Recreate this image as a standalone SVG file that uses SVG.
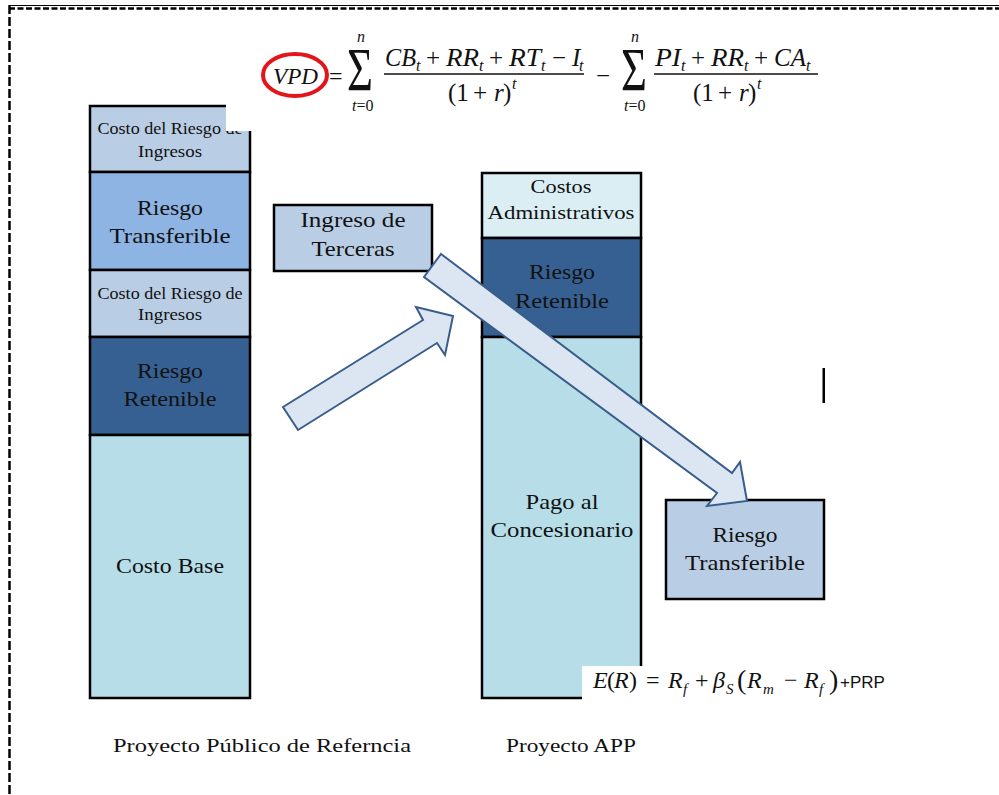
<svg xmlns="http://www.w3.org/2000/svg" width="999" height="795" viewBox="0 0 999 795">
<style>
  .lbl{font-family:"Liberation Serif","DejaVu Serif",serif;fill:#111;text-anchor:middle}
  .m{font-family:"Liberation Serif","DejaVu Serif",serif;fill:#111}
  .it{font-style:italic}
  .box{stroke:#000;stroke-width:2.5}
  .c1{fill:#b9cde5}
  .c2{fill:#8eb4e3}
  .c3{fill:#376092}
  .c4{fill:#b7dee8}
  .c5{fill:#dbeef4}
  .arrow{fill:#dce6f2;stroke:#385d8a;stroke-width:2}
</style>
<rect width="999" height="795" fill="#fff"/>

<!-- page frame -->
<g id="frame" fill="none" stroke="#000">
  <line x1="9" y1="5.5" x2="999" y2="5.5" stroke-width="1"/>
  <line x1="9" y1="8.5" x2="999" y2="8.5" stroke-width="2.5" stroke-dasharray="6 2.5"/>
  <line x1="9.5" y1="5" x2="9.5" y2="795" stroke-width="2.5" stroke-dasharray="9 3"/>
</g>

<!-- left stack: public reference project -->
<g id="ref-costo-riesgo-ingresos-1">
  <rect class="box c1" x="90" y="106" width="160" height="66"/>
  <text class="lbl" x="170" y="134" font-size="16" textLength="145" lengthAdjust="spacingAndGlyphs">Costo del Riesgo de</text>
  <text class="lbl" x="170" y="157" font-size="16" textLength="64" lengthAdjust="spacingAndGlyphs">Ingresos</text>
</g>
<g id="ref-riesgo-transferible">
  <rect class="box c2" x="90" y="172" width="160" height="98"/>
  <text class="lbl" x="170" y="215" font-size="22" textLength="66" lengthAdjust="spacingAndGlyphs">Riesgo</text>
  <text class="lbl" x="170" y="243" font-size="22" textLength="121" lengthAdjust="spacingAndGlyphs">Transferible</text>
</g>
<g id="ref-costo-riesgo-ingresos-2">
  <rect class="box c1" x="90" y="270" width="160" height="67"/>
  <text class="lbl" x="170" y="299" font-size="16" textLength="145" lengthAdjust="spacingAndGlyphs">Costo del Riesgo de</text>
  <text class="lbl" x="170" y="320" font-size="16" textLength="64" lengthAdjust="spacingAndGlyphs">Ingresos</text>
</g>
<g id="ref-riesgo-retenible">
  <rect class="box c3" x="90" y="337" width="160" height="98"/>
  <text class="lbl" x="170" y="378" font-size="22" textLength="66" lengthAdjust="spacingAndGlyphs">Riesgo</text>
  <text class="lbl" x="170" y="406" font-size="22" textLength="93" lengthAdjust="spacingAndGlyphs">Retenible</text>
</g>
<g id="ref-costo-base">
  <rect class="box c4" x="90" y="435" width="160" height="263"/>
  <text class="lbl" x="170" y="573" font-size="22" textLength="108" lengthAdjust="spacingAndGlyphs">Costo Base</text>
</g>
<!-- blank patch over the top-right corner of the stack -->
<rect x="226" y="98" width="28" height="33" fill="#fff"/>

<!-- third-party income -->
<g id="ingreso-terceras">
  <rect class="box c1" x="274" y="205" width="158" height="66"/>
  <text class="lbl" x="353" y="227" font-size="22" textLength="105" lengthAdjust="spacingAndGlyphs">Ingreso de</text>
  <text class="lbl" x="353" y="256" font-size="22" textLength="83" lengthAdjust="spacingAndGlyphs">Terceras</text>
</g>

<!-- right stack: PPP project -->
<g id="app-costos-admin">
  <rect class="box c5" x="482" y="173" width="159" height="65"/>
  <text class="lbl" x="561" y="193" font-size="19" textLength="61" lengthAdjust="spacingAndGlyphs">Costos</text>
  <text class="lbl" x="561" y="219" font-size="19" textLength="147" lengthAdjust="spacingAndGlyphs">Administrativos</text>
</g>
<g id="app-riesgo-retenible">
  <rect class="box c3" x="482" y="238" width="159" height="99"/>
  <text class="lbl" x="562" y="279" font-size="22" textLength="66" lengthAdjust="spacingAndGlyphs">Riesgo</text>
  <text class="lbl" x="562" y="308" font-size="22" textLength="94" lengthAdjust="spacingAndGlyphs">Retenible</text>
</g>
<g id="app-pago-concesionario">
  <rect class="box c4" x="482" y="337" width="159" height="361"/>
  <text class="lbl" x="562" y="509" font-size="22" textLength="73" lengthAdjust="spacingAndGlyphs">Pago al</text>
  <text class="lbl" x="562" y="537" font-size="22" textLength="143" lengthAdjust="spacingAndGlyphs">Concesionario</text>
</g>

<!-- transferred risk -->
<g id="app-riesgo-transferible">
  <rect class="box c1" x="666" y="500" width="158" height="99"/>
  <text class="lbl" x="745" y="542" font-size="22" textLength="65" lengthAdjust="spacingAndGlyphs">Riesgo</text>
  <text class="lbl" x="745" y="570" font-size="22" textLength="120" lengthAdjust="spacingAndGlyphs">Transferible</text>
</g>

<!-- block arrows -->
<g id="connectors">
  <polygon class="arrow" points="283,407 423,320 416,307 453,316 445,355 437,343 298,430"/>
  <polygon class="arrow" points="441,254 732,473 740,462 747,501 707,506 717,493 424,277"/>
</g>

<!-- cursor bar -->
<rect x="822.5" y="368" width="2.5" height="35" fill="#000"/>

<!-- captions -->
<g id="captions">
  <text class="lbl" x="262" y="752" font-size="19" textLength="298" lengthAdjust="spacingAndGlyphs">Proyecto Público de Referncia</text>
  <text class="lbl" x="571" y="752" font-size="19" textLength="130" lengthAdjust="spacingAndGlyphs">Proyecto APP</text>
</g>

<!-- present value difference formula -->
<g id="formula-vpd" class="m">
  <ellipse cx="295" cy="75" rx="32" ry="21" fill="none" stroke="#e3151b" stroke-width="4"/>
  <text class="it" x="273" y="84" font-size="24" textLength="45" lengthAdjust="spacingAndGlyphs">VPD</text>
  <text x="329" y="84" font-size="24">=</text>
  <!-- first sum -->
  <text font-size="62" transform="translate(347,90) scale(0.72,1)">Σ</text>
  <text class="it" x="357" y="42" font-size="16">n</text>
  <text x="352" y="111" font-size="16"><tspan class="it">t</tspan>=0</text>
  <text x="385" y="66" font-size="25" class="it" textLength="31" lengthAdjust="spacingAndGlyphs">CB</text>
  <text x="416" y="71" font-size="16" class="it">t</text>
  <text x="426" y="66" font-size="25">+</text>
  <text x="446" y="66" font-size="25" class="it" textLength="33" lengthAdjust="spacingAndGlyphs">RR</text>
  <text x="479" y="71" font-size="16" class="it">t</text>
  <text x="489" y="66" font-size="25">+</text>
  <text x="509" y="66" font-size="25" class="it" textLength="32" lengthAdjust="spacingAndGlyphs">RT</text>
  <text x="541" y="71" font-size="16" class="it">t</text>
  <text x="552" y="66" font-size="25">−</text>
  <text x="572" y="66" font-size="25" class="it">I</text>
  <text x="579" y="71" font-size="16" class="it">t</text>
  <line x1="384" y1="74" x2="584" y2="74" stroke="#111" stroke-width="1.5"/>
  <text x="448" y="101" font-size="25">(1</text>
  <text x="473" y="101" font-size="25">+</text>
  <text x="494" y="101" font-size="25" class="it">r</text>
  <text x="503" y="101" font-size="25">)</text>
  <text x="512" y="89" font-size="16" class="it">t</text>
  <!-- minus between sums -->
  <text x="596" y="84" font-size="25">−</text>
  <!-- second sum -->
  <text font-size="62" transform="translate(621,90) scale(0.72,1)">Σ</text>
  <text class="it" x="631" y="42" font-size="16">n</text>
  <text x="624" y="111" font-size="16"><tspan class="it">t</tspan>=0</text>
  <text x="655" y="66" font-size="25" class="it" textLength="26" lengthAdjust="spacingAndGlyphs">PI</text>
  <text x="681" y="71" font-size="16" class="it">t</text>
  <text x="691" y="66" font-size="25">+</text>
  <text x="711" y="66" font-size="25" class="it" textLength="33" lengthAdjust="spacingAndGlyphs">RR</text>
  <text x="744" y="71" font-size="16" class="it">t</text>
  <text x="754" y="66" font-size="25">+</text>
  <text x="774" y="66" font-size="25" class="it" textLength="32" lengthAdjust="spacingAndGlyphs">CA</text>
  <text x="806" y="71" font-size="16" class="it">t</text>
  <line x1="654" y1="74" x2="818" y2="74" stroke="#111" stroke-width="1.5"/>
  <text x="693" y="101" font-size="25">(1</text>
  <text x="718" y="101" font-size="25">+</text>
  <text x="739" y="101" font-size="25" class="it">r</text>
  <text x="748" y="101" font-size="25">)</text>
  <text x="757" y="89" font-size="16" class="it">t</text>
</g>

<!-- expected return formula -->
<g id="formula-capm" class="m">
  <rect x="582" y="666" width="330" height="40" fill="#fff"/>
  <text x="593" y="688" font-size="24" class="it">E</text>
  <text x="607" y="688" font-size="24">(</text>
  <text x="614" y="688" font-size="24" class="it">R</text>
  <text x="629" y="688" font-size="24">)</text>
  <text x="646" y="688" font-size="24">=</text>
  <text x="668" y="688" font-size="24" class="it">R</text>
  <text x="683" y="694" font-size="15" class="it">f</text>
  <text x="695" y="688" font-size="24">+</text>
  <text x="713" y="688" font-size="24" class="it">β</text>
  <text x="726" y="694" font-size="15" class="it">S</text>
  <text x="737" y="689" font-size="28">(</text>
  <text x="747" y="688" font-size="24" class="it">R</text>
  <text x="763" y="694" font-size="15" class="it">m</text>
  <text x="784" y="688" font-size="24">−</text>
  <text x="804" y="688" font-size="24" class="it">R</text>
  <text x="819" y="694" font-size="15" class="it">f</text>
  <text x="829" y="689" font-size="28">)</text>
  <text x="840" y="688" font-size="17" font-family="Liberation Sans, Arial, sans-serif">+PRP</text>
</g>
</svg>
